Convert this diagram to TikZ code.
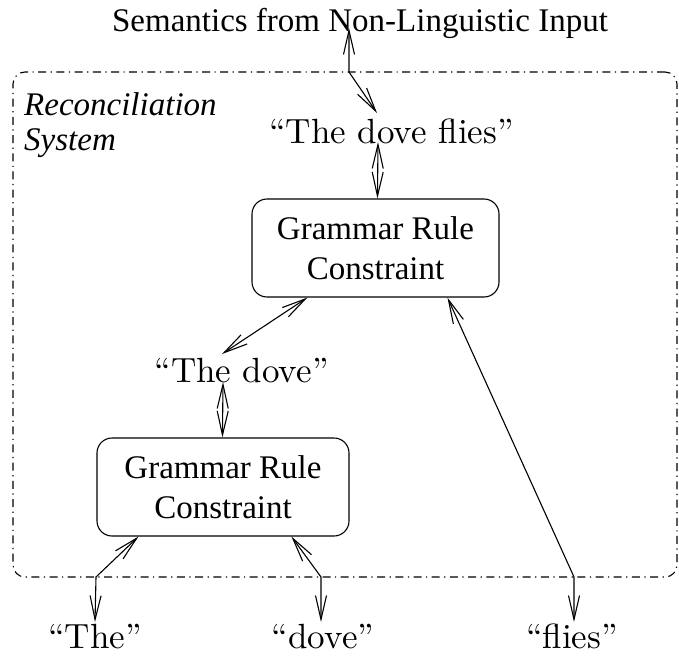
\documentclass[tikz,border=0pt]{standalone}
\usepackage{fontspec}
\setmainfont{Liberation Serif}
\newfontfamily\cmfont{lmroman10-regular.otf}
\usetikzlibrary{arrows.meta}

\begin{document}
\begin{tikzpicture}[x=1pt, y=-1pt,
  >={Straight Barb[length=24pt,width=11pt]},
  word/.style={font={\cmfont\fontsize{35}{42}\selectfont}, inner sep=0pt, anchor=base},
  serif/.style={font={\fontsize{33}{40}\selectfont}, inner sep=0pt},
  rulebox/.style={draw, line width=1.1pt, rounded corners=15pt, align=center,
    inner sep=0pt, font={\fontsize{33}{40}\selectfont}},
  sysframe/.style={draw, line width=1.1pt, rounded corners=12pt, inner sep=0pt,
    dash pattern=on 8pt off 4.5pt on 1.2pt off 4.5pt},
  link/.style={line width=1.1pt, <->}]
\useasboundingbox (0,0) rectangle (679,655);

% reconciliation system frame
\node[sysframe, minimum width=664pt, minimum height=505pt] (sys) at (345,324.5) {};
\node[serif, anchor=base west, align=left, font={\itshape\fontsize{33}{35}\selectfont}]
  (sysname) at (24,150) {Reconciliation\\System};

% texts
\node[serif, anchor=base] (sem) at (360,32) {Semantics from Non-Linguistic Input};
\node[word] (tdf) at (391.5,144) {“The dove flies”};
\node[word] (tdove) at (241.5,382) {“The dove”};
\node[word] (wthe) at (95,648) {“The”};
\node[word] (wdove) at (323,648) {“dove”};
\node[word] (wflies) at (572,648) {“flies”};

% grammar rule constraints
\node[rulebox, minimum width=247pt, minimum height=98pt] (g1) at (375.5,248)
  {Grammar Rule\\Constraint};
\node[rulebox, minimum width=252pt, minimum height=98pt] (g2) at (223,487)
  {Grammar Rule\\Constraint};

% crossing points on the frame
\coordinate (k1) at (349,72);
\coordinate (k2) at (96,577);
\coordinate (k3) at (321,577);
\coordinate (k4) at (574,577);

% connectors
\draw[link] ([xshift=-11pt,yshift=4pt]sem.base) -- (k1) -- ([xshift=-14.5pt,yshift=31pt]tdf.base);
\draw[link] ([xshift=-13.5pt,yshift=2pt]tdf.base) -- ([xshift=126pt]g1.north west);
\draw[link] ([xshift=56pt]g1.south west) -- ([xshift=-19.5pt,yshift=28pt]tdove.base);
\draw[link] ([xshift=-18.5pt]tdove.base) -- ([xshift=126pt]g2.north west);
\draw[link] ([xshift=42pt]g2.south west) -- (k2) -- ([yshift=26pt]wthe.base);
\draw[link] ([xshift=195pt]g2.south west) -- (k3) -- ([xshift=-2pt,yshift=26pt]wdove.base);
\draw[link] ([xshift=196pt]g1.south west) -- (k4) -- ([xshift=2pt,yshift=26pt]wflies.base);
\end{tikzpicture}
\end{document}
